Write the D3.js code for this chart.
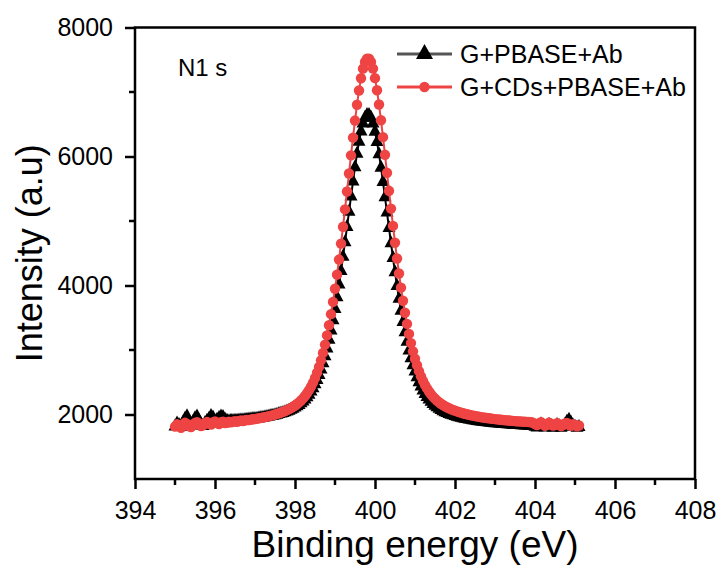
<!DOCTYPE html>
<html>
<head>
<meta charset="utf-8">
<script src="https://cdn.jsdelivr.net/npm/d3@7"></script>
<style>
  html, body { margin: 0; padding: 0; background: #fff; }
  svg { display: block; }
  text { font-family: "Liberation Sans", Arial, sans-serif; fill: #000; }
</style>
</head>
<body>
<svg id="chart" width="720" height="566"></svg>
<script>
// XPS N1 s scan: 395.00 – 405.10 eV, 0.05 eV step
const scanStart = 395.0;
const scanStep = 0.05;

const seriesNames = ["G+PBASE+Ab", "G+CDs+PBASE+Ab"];

// Intensity (counts) of G+PBASE+Ab
const intensityPBASE = [
  1815,1862,1838,1812,1875,1935,1972,1890,1830,1884,
  1941,1968,1902,1846,1822,1868,1905,1936,1978,1952,
  1894,1918,1946,1970,1962,1921,1905,1897,1902,1898,
  1905,1903,1908,1910,1912,1916,1919,1921,1925,1929,
  1932,
  1935,1940,1945,1950,1956,1962,1968,1975,1982,1989,
  1997,2006,2015,2025,2036,2047,2060,2074,2090,2107,
  2127,2148,2173,2201,2232,2268,2308,2355,2408,2468,
  2535,2612,2699,2796,2904,3024,3157,3302,3461,3634,
  3819,4016,4225,4444,4672,4906,5142,5379,5611,5834,
  6041,6228,6387,6513,6600,6644,
  6644,6599,6512,6385,6224,6036,5827,5603,5368,5130,
  4891,4655,4426,4205,3994,3795,3609,3435,3275,3128,
  2994,2873,2764,2666,2579,2501,2433,2373,2319,2273,
  2232,2196,2164,2136,2111,2089,2070,2052,2036,2022,
  2009,1998,1987,1977,1967,1959,1951,1943,1936,1929,
  1923,1917,1912,1906,1901,1897,1892,1888,1884,1880,
  1876,1872,1869,1866,1863,1860,1857,1854,1851,1849,
  1847,1844,1842,1840,1838,1836,1834,1832,1830,1829,
  1827,1825,
  1830,1812,1800,1826,1848,1829,1798,1810,1842,1825,
  1796,1808,1838,1820,1794,1812,1846,1892,1918,1874,
  1830,1812,1795,1806
];

// Intensity (counts) of G+CDs+PBASE+Ab
const intensityCDs = [
  1812,1848,1826,1795,1842,1871,1854,1819,1806,1838,
  1868,1880,1852,1821,1833,1866,1884,1862,1845,1875,
  1893,1870,1852,1880,1888,1866,1872,1889,1878,1890,
  1895,1887,1899,1906,1900,1910,1915,1913,1922,1927,
  1929,
  1936,1941,1947,1953,1960,1967,1974,1982,1990,1999,
  2009,2019,2030,2042,2054,2068,2083,2100,2119,2139,
  2162,2188,2217,2250,2287,2330,2378,2433,2495,2566,
  2647,2738,2840,2955,3084,3226,3383,3556,3745,3949,
  4168,4402,4650,4910,5180,5457,5737,6018,6293,6557,
  6803,7024,7213,7362,7465,7518,
  7518,7466,7363,7215,7027,6807,6562,6300,6026,5747,
  5468,5192,4924,4665,4419,4186,3967,3764,3577,3405,
  3249,3107,2979,2865,2763,2672,2592,2522,2459,2405,
  2357,2314,2277,2245,2216,2190,2167,2147,2128,2112,
  2097,2083,2070,2059,2048,2038,2028,2019,2011,2003,
  1996,1989,1982,1976,1970,1965,1959,1954,1950,1945,
  1941,1937,1932,1929,1925,1922,1918,1915,1912,1909,
  1906,1903,1901,1898,1896,1894,1891,1889,1887,1885,
  1883,1881,
  1872,1850,1838,1861,1880,1852,1826,1840,1873,1858,
  1829,1837,1866,1848,1822,1835,1862,1870,1841,1826,
  1850,1838,1818,1830
];

const xMajorTicks = [394, 396, 398, 400, 402, 404, 406, 408];
const xMinorTicks = [395, 397, 399, 401, 403, 405, 407];
const yMajorTicks = [2000, 4000, 6000, 8000];
const yMinorTicks = [3000, 5000, 7000];

// ---- layout ----
const plot = { left: 135, right: 695, top: 27.5, bottom: 479 };
const red = "#ef4444";

const energyOf = i => +(scanStart + scanStep * i).toFixed(2);
const ptsPBASE = intensityPBASE.map((v, i) => ({ x: energyOf(i), y: v }));
const ptsCDs = intensityCDs.map((v, i) => ({ x: energyOf(i), y: v }));

const x = d3.scaleLinear().domain([394, 408]).range([plot.left, plot.right]);
const y = d3.scaleLinear().domain([1000, 8000]).range([plot.bottom, plot.top]);

const svg = d3.select("#chart");

// triangle marker (centroid at origin)
const triPath = (w, h) => `M0,${-h * 2 / 3}L${w / 2},${h / 3}L${-w / 2},${h / 3}Z`;

const line = d3.line().x(d => x(d.x)).y(d => y(d.y));

// series 1: triangles
const g1 = svg.append("g");
g1.append("path").datum(ptsPBASE)
  .attr("d", line).attr("fill", "none").attr("stroke", "#000").attr("stroke-width", 2);
g1.selectAll("path.m").data(ptsPBASE).enter().append("path")
  .attr("class", "m")
  .attr("d", triPath(13, 12))
  .attr("transform", d => `translate(${x(d.x)},${y(d.y)})`)
  .attr("fill", "#000");

// series 2: circles
const g2 = svg.append("g");
g2.append("path").datum(ptsCDs)
  .attr("d", line).attr("fill", "none").attr("stroke", red).attr("stroke-width", 2);
g2.selectAll("circle").data(ptsCDs).enter().append("circle")
  .attr("cx", d => x(d.x)).attr("cy", d => y(d.y)).attr("r", 5.2)
  .attr("fill", red);

// ---- axes ----
const axisW = 2.5;
const xAxis = svg.append("g").attr("transform", `translate(0,${plot.bottom})`)
  .call(d3.axisBottom(x).tickValues(xMajorTicks).tickSize(10).tickPadding(12).tickFormat(d3.format("d")));
xAxis.select(".domain").remove();
xAxis.selectAll(".tick line").attr("stroke-width", axisW);
xAxis.selectAll(".tick text").attr("font-size", 25).attr("font-family", "Liberation Sans, Arial, sans-serif");
svg.append("g").selectAll("line").data(xMinorTicks).enter().append("line")
  .attr("x1", d => x(d)).attr("x2", d => x(d))
  .attr("y1", plot.bottom).attr("y2", plot.bottom + 6)
  .attr("stroke", "#000").attr("stroke-width", axisW);

const yAxis = svg.append("g").attr("transform", `translate(${plot.left},0)`)
  .call(d3.axisLeft(y).tickValues(yMajorTicks).tickSize(10).tickPadding(12).tickFormat(d3.format("d")));
yAxis.select(".domain").remove();
yAxis.selectAll(".tick line").attr("stroke-width", axisW);
yAxis.selectAll(".tick text").attr("font-size", 25).attr("font-family", "Liberation Sans, Arial, sans-serif");
svg.append("g").selectAll("line").data(yMinorTicks).enter().append("line")
  .attr("x1", plot.left - 6).attr("x2", plot.left)
  .attr("y1", d => y(d)).attr("y2", d => y(d))
  .attr("stroke", "#000").attr("stroke-width", axisW);

// frame
svg.append("rect")
  .attr("x", plot.left).attr("y", plot.top)
  .attr("width", plot.right - plot.left).attr("height", plot.bottom - plot.top)
  .attr("fill", "none").attr("stroke", "#000").attr("stroke-width", axisW);

// axis titles
svg.append("text")
  .attr("x", (plot.left + plot.right) / 2).attr("y", 557)
  .attr("text-anchor", "middle").attr("font-size", 37)
  .text("Binding energy (eV)");
svg.append("text")
  .attr("transform", `translate(42,${(plot.top + plot.bottom) / 2}) rotate(-90)`)
  .attr("text-anchor", "middle").attr("font-size", 36)
  .text("Intensity (a.u)");

// panel label
svg.append("text").attr("x", 178).attr("y", 76).attr("font-size", 24).text("N1 s");

// ---- legend ----
const legend = svg.append("g");
const rows = [
  { name: seriesNames[0], y: 54, lineColor: "#555", kind: "tri" },
  { name: seriesNames[1], y: 87, lineColor: red, kind: "circle" }
];
rows.forEach(r => {
  legend.append("line")
    .attr("x1", 397).attr("x2", 452).attr("y1", r.y).attr("y2", r.y)
    .attr("stroke", r.lineColor).attr("stroke-width", 3);
  if (r.kind === "tri") {
    legend.append("path").attr("d", triPath(17, 15))
      .attr("transform", `translate(424.5,${r.y})`).attr("fill", "#000");
  } else {
    legend.append("circle").attr("cx", 424.5).attr("cy", r.y).attr("r", 5.2).attr("fill", red);
  }
  legend.append("text").attr("x", 460).attr("y", r.y + 9).attr("font-size", 25).text(r.name);
});
</script>
</body>
</html>
